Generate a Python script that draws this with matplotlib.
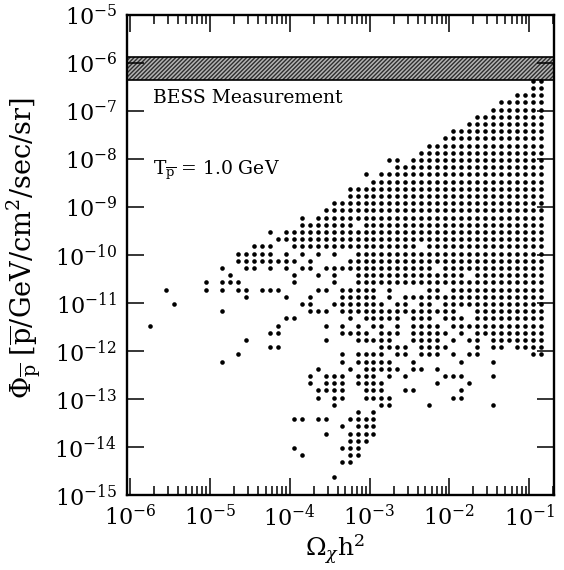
import matplotlib
matplotlib.use("Agg")
import matplotlib.pyplot as plt

plt.rcParams["font.family"] = ["DejaVu Serif"]
plt.rcParams["mathtext.fontset"] = "dejavuserif"
plt.rcParams["hatch.linewidth"] = 1.0

# log10(Omega h^2) of each grid column, left to right
LOG_X = [-5.75, -5.65, -5.55, -5.45, -5.35, -5.25, -5.15, -5.05, -4.95, -4.85,
         -4.75, -4.65, -4.55, -4.45, -4.35, -4.25, -4.15, -4.05, -3.95, -3.85,
         -3.75, -3.65, -3.55, -3.45, -3.35, -3.25, -3.15, -3.05, -2.95, -2.85,
         -2.75, -2.65, -2.55, -2.45, -2.35, -2.25, -2.15, -2.05, -1.95, -1.85,
         -1.75, -1.65, -1.55, -1.45, -1.35, -1.25, -1.15, -1.05, -0.95, -0.85]

# log10(flux) of each grid row, top to bottom
LOG_Y = [-6.37, -6.52, -6.67, -6.82, -6.97, -7.12, -7.27, -7.42, -7.57, -7.72,
         -7.87, -8.02, -8.17, -8.32, -8.47, -8.62, -8.77, -8.92, -9.07, -9.22,
         -9.37, -9.52, -9.67, -9.82, -9.97, -10.12, -10.27, -10.42, -10.57, -10.72,
         -10.87, -11.02, -11.17, -11.32, -11.47, -11.62, -11.77, -11.92, -12.07, -12.22,
         -12.37, -12.52, -12.67, -12.82, -12.97, -13.12, -13.27, -13.42, -13.57, -13.72,
         -13.87, -14.02, -14.17, -14.32, -14.47, -14.62]

# models on the (x, y) grid: '#' = a model, '.' = none (spaces only for reading)
ROWS = [
    ".......... .......... .......... .......... ........##",
    ".......... .......... .......... .......... ........##",
    ".......... .......... .......... .......... ......####",
    ".......... .......... .......... .......... ....######",
    ".......... .......... .......... .......... ...#######",
    ".......... .......... .......... .......... .#########",
    ".......... .......... .......... .......... ##########",
    ".......... .......... .......... ........## ##########",
    ".......... .......... .......... .......### ##########",
    ".......... .......... .......... .....##### ##########",
    ".......... .......... .......... ....###### ##########",
    ".......... .......... .......... ##.####### ##########",
    ".......... .......... .......... .######### ##########",
    ".......... .......... .......#.# ########## ##########",
    ".......... .......... ........## ########## ##########",
    ".......... .......... .....##### ########## ##########",
    ".......... .......... .....##### ########## ##########",
    ".......... .......... ...####### ########## ##########",
    ".......... .......... ..######## ########## ##########",
    ".......... .........# .######### ########## ##########",
    ".......... .........# ######.### ########## ##########",
    ".......... .....#.### ########## ########## ##########",
    ".......... ......#### ########## ########## ##########",
    ".......... ...###..## ########## ####.##### ##########",
    ".......... .#####.#.# .#.#..#### ########## ##########",
    ".......... .########. #....##### ########## ##########",
    ".........# ..##.#.#.# #.######## ######.### ##########",
    ".......... #.......#. .#.#..#### ########## .#########",
    ".......#.# ##......#. ...#..#### ########## ##########",
    "..#....#.# .##.###... .##.#####. #....##.## ##########",
    ".......... ..#....#.. #...#####. #.######## ##########",
    "...#...... .........# #..####### .##.##.### ##########",
    ".........# .......... ###.###### #########. .#########",
    ".......... .......##. .....#.### ##.###.### .#########",
    "#......... ......#... ..#.#.#.## .#.####.## ##########",
    ".......... .....##... ....####.# ##.#####.# .#########",
    ".......... ..#....... ..#...#### #..####.#. ##.#######",
    ".......... .....##... .........# ###.####.. .#.##.####",
    ".......... .#........ ....#.#### .##.###.#. ##......##",
    ".........# .......... ....#.#### #..#.....# ...#......",
    ".......... .......... .#...#.### ##.##.#... ..........",
    ".......... .......... #.###.###. #.#....### ...#......",
    ".......... .......... #.###.#### ......#... #.........",
    ".......... .......... .####..### ..##.....# ..........",
    ".......... .......... .#.##..### #.......## ..........",
    ".......... .......... ...#.....# #....#.... ...#......",
    ".......... .......... ......#.#. .......... ..........",
    ".......... ........## .##..####. .......... ..........",
    ".......... .......... ....#.###. .......... ..........",
    ".......... .......... ..#..####. .......... ..........",
    ".......... .......... .....###.. .......... ..........",
    ".......... ........#. ....###... .......... ..........",
    ".......... .........# .....##... .......... ..........",
    ".......... .......... ....##.... .......... ..........",
    ".......... .......... .......... .......... ..........",
    ".......... .......... ...#...... .......... ..........",
]

BESS_LOW = 4.4e-7
BESS_HIGH = 1.35e-6

xs, ys = [], []
for r, row in enumerate(ROWS):
    for c, ch in enumerate(row.replace(" ", "")):
        if ch == "#":
            xs.append(10 ** LOG_X[c])
            ys.append(10 ** LOG_Y[r])

fig = plt.figure(figsize=(5.64, 5.70), dpi=100)
ax = fig.add_axes([0.2246, 0.1316, 0.7577, 0.8421])
ax.set_xscale("log")
ax.set_yscale("log")
ax.set_xlim(10 ** -6.04, 10 ** -0.69)
ax.set_ylim(1e-15, 1e-5)

# BESS band
ax.axhspan(BESS_LOW, BESS_HIGH, facecolor="#b4b4b4", edgecolor="#2e2e2e",
           hatch="////////", linewidth=0, zorder=1)
ax.axhline(BESS_LOW, color="black", lw=1.2, zorder=2)
ax.axhline(BESS_HIGH, color="black", lw=1.2, zorder=2)

ax.plot(xs, ys, "o", ms=3.3, color="black", mec="none", zorder=3)

ax.text(0.062, 0.827, "BESS Measurement", transform=ax.transAxes,
        fontsize=13.5, va="center", ha="left")
ax.text(0.062, 0.677, r"T$_{\overline{\rm p}}$ = 1.0 GeV", transform=ax.transAxes,
        fontsize=13.5, va="center", ha="left")

ax.set_xticks([1e-6, 1e-5, 1e-4, 1e-3, 1e-2, 1e-1])
ax.set_yticks([10.0 ** e for e in range(-15, -4)])
ax.tick_params(which="both", direction="in", top=True, right=True, width=1.1)
ax.tick_params(which="major", length=12, labelsize=16, pad=7)
ax.tick_params(which="minor", length=6.5)
for s in ax.spines.values():
    s.set_linewidth(1.7)

ax.set_xlabel(r"$\Omega_\chi{\rm h}^2$", fontsize=18)
ax.xaxis.set_label_coords(0.487, -0.08)
ax.set_ylabel(r"$\Phi_{\overline{\rm p}}\ [\overline{\rm p}/{\rm GeV/cm^2/sec/sr}]$",
              fontsize=19.5)
ax.yaxis.set_label_coords(-0.195, 0.515)

fig.savefig("out.png", dpi=100)
